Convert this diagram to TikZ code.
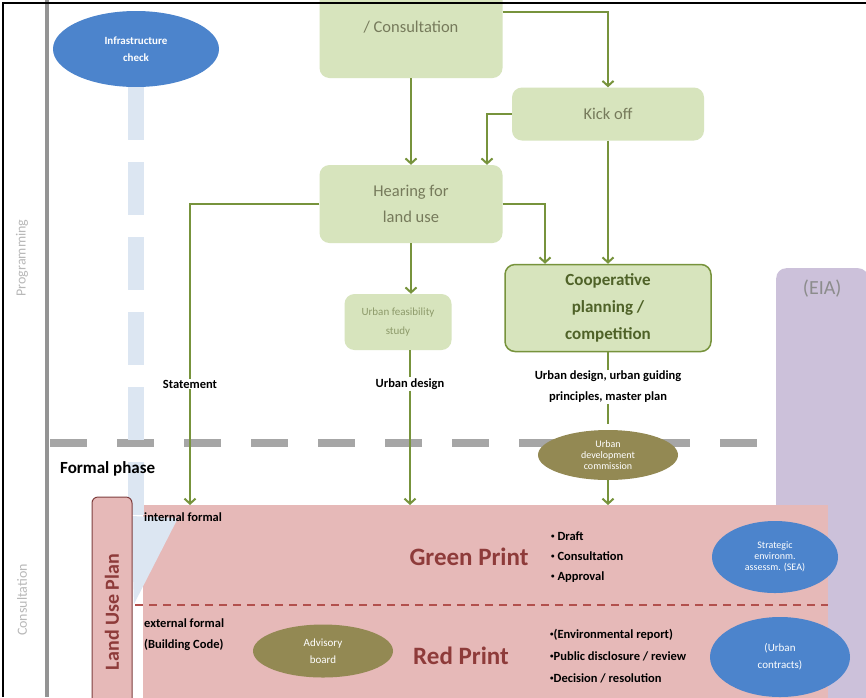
\documentclass[tikz,border=0pt]{standalone}
\usepackage{fontspec}
\setmainfont{Carlito}
\usetikzlibrary{arrows.meta,shapes.geometric}
\definecolor{gfill}{HTML}{D7E4BD}
\definecolor{gline}{HTML}{77933C}
\definecolor{gtext}{HTML}{767A5B}
\definecolor{gtextlt}{HTML}{8D9A6A}
\definecolor{coopt}{HTML}{4F6228}
\definecolor{bluec}{HTML}{4C84CC}
\definecolor{olivec}{HTML}{938953}
\definecolor{pinkc}{HTML}{E6B9B8}
\definecolor{purplec}{HTML}{CCC1DA}
\definecolor{lightblue}{HTML}{DCE6F2}
\definecolor{redt}{HTML}{8E3B3A}
\definecolor{reddash}{HTML}{B2504D}
\definecolor{lupline}{HTML}{7F3F3F}
\newcommand{\bul}{\raisebox{0.25ex}{\fontsize{7}{7}\selectfont•}}
\begin{document}
\begin{tikzpicture}[x=1pt,y=-1pt,
  font=\fontsize{16.5}{26}\selectfont,
  gbox/.style={fill=gfill,rounded corners=10pt,align=center,text=gtext,inner sep=2pt},
  arrow/.style={-{Straight Barb[length=5pt,width=11pt]},line width=2pt,draw=gline},
  link/.style={line width=2pt,draw=gline},
  ellip/.style={ellipse,fill=#1,text=white,align=center,inner sep=0pt,font=\fontsize{10}{11}\selectfont},
  lbl/.style={font=\bfseries\fontsize{12.5}{21}\selectfont,align=center,inner sep=1pt},
  print/.style={font=\bfseries\fontsize{25}{30}\selectfont,text=redt},
  side/.style={rotate=90,text=black!28,font=\fontsize{14}{16}\selectfont},
]
\useasboundingbox (0,0) rectangle (866,697);
\clip (0,0) rectangle (866,697);
\fill[white] (0,0) rectangle (866,697);

% background areas
\node[fill=purplec,rounded corners=10pt,minimum width=92pt,minimum height=460pt,anchor=north west,inner sep=0pt,
  label={[anchor=north,yshift=-8pt,text=black!45,font=\fontsize{20}{24}\selectfont]north:(EIA)}] (eia) at (776,268) {};
\node[fill=pinkc,minimum width=685pt,minimum height=210pt,anchor=north west,inner sep=0pt] (plan) at (143,505) {};
\coordinate (split) at (135,605);
\draw[reddash,line width=1.6pt,dash pattern=on 8pt off 6pt] (split) -- (split -| plan.east);

% phase divider and side labels
\draw[line width=4pt,black!42] (47,0) -- (47,697);
\coordinate (phaseL) at (50,443);
\coordinate (phaseR) at (760,443);
\draw[black!35,line width=8pt,dash pattern=on 37pt off 30pt] (phaseL) -- (phaseR);
\node[side] (prog) at (22,258) {Programming};
\node[side] (cons) at (22,600) {Consultation};

% infrastructure check
\node[ellip=bluec,minimum width=166pt,minimum height=76pt,font=\bfseries\fontsize{11}{17}\selectfont] (infra) at (136,49) {Infrastructure\\check};
\coordinate (infraend) at (136,516);
\draw[lightblue,line width=16pt,dash pattern=on 53pt off 22pt] (infra.south) -- (infraend);
\fill[lightblue] (131,516) -- (178,518) -- (134,604) -- cycle;
\node[font=\bfseries\fontsize{17}{20}\selectfont,anchor=west,inner sep=0pt] (formal) at (60,469) {Formal phase};

% land use plan
\node[draw=lupline,line width=1pt,fill=pinkc,rounded corners=6pt,minimum width=230pt,minimum height=40pt,rotate=90,
  text=redt,font=\bfseries\fontsize{20}{24}\selectfont,inner sep=0pt] (lup) at (112,612) {Land Use Plan};

% programming boxes
\node[gbox,minimum width=183pt,minimum height=132pt] (consult) at (411,12) {\phantom{X}\\[6pt]/ Consultation};
\node[gbox,minimum width=192pt,minimum height=53pt] (kick) at (608,114) {Kick off};
\node[gbox,minimum width=183pt,minimum height=78pt] (hear) at (411,204) {Hearing for\\land use};
\node[gbox,minimum width=107pt,minimum height=56pt,text=gtextlt,font=\fontsize{11}{19}\selectfont] (feas) at (398,322) {Urban feasibility\\study};
\node[gbox,draw=gline,line width=1.5pt,minimum width=206pt,minimum height=87pt,text=coopt,
  font=\bfseries\fontsize{17}{27}\selectfont] (coop) at (608,308) {Cooperative\\planning /\\competition};

\node[lbl] (stmt) at (190,384) {Statement};
\node[lbl] (design) at (410,384) {Urban design};
\node[lbl] (coopl) at (608,387) {Urban design, urban guiding\\principles, master plan};

% connectors
\draw[arrow] (consult.south) -- (hear.north);
\draw[arrow] (consult.east) -| (kick.north);
\draw[arrow] (kick.west) -| ([xshift=76pt]hear.north);
\draw[arrow] (kick.south) -- (coop.north);
\draw[arrow] (hear.east) -| ([xshift=-63pt]coop.north);
\draw[link] (hear.west) -| (stmt.north);
\draw[arrow] (stmt.south) -- (stmt.south |- plan.north);
\draw[arrow] (hear.south) -- (hear.south |- feas.north);
\draw[link] (feas.south -| design.north) -- (design.north);
\draw[arrow] (design.south) -- (design.south |- plan.north);
\draw[link] (coop.south) -- (coopl.north);
\draw[link] (coopl.south) -- ++(0,20);
\node[ellip=olivec,minimum width=140pt,minimum height=50pt] (udc) at (608,455) {Urban\\development\\commission};
\draw[arrow] (udc.south) -- (udc.south |- plan.north);

% formal phase content
\node[lbl,anchor=north west] (intl) at (143,512) {internal formal};
\node[lbl,anchor=west,align=left] (extl) at (143,635) {external formal\\(Building Code)};
\node[print] (gp) at (469,557) {Green Print};
\node[print] (rp) at (461,656) {Red Print};
\node[lbl,anchor=west,align=left,font=\bfseries\fontsize{12.5}{20}\selectfont] (gbul) at (550,557) {\bul\ Draft\\\bul\ Consultation\\\bul\ Approval};
\node[lbl,anchor=west,align=left,font=\bfseries\fontsize{12.5}{22}\selectfont] (rbul) at (549,656) {\bul(Environmental report)\\\bul Public disclosure / review\\\bul Decision / resolution};
\node[ellip=olivec,minimum width=140pt,minimum height=53pt,font=\fontsize{11}{17}\selectfont] (adv) at (323,651) {Advisory\\board};
\node[ellip=bluec,minimum width=126pt,minimum height=72pt] (sea) at (775,557) {Strategic\\environm.\\assessm. (SEA)};
\node[ellip=bluec,minimum width=140pt,minimum height=80pt,font=\fontsize{11}{17}\selectfont] (contr) at (780,657) {(Urban\\contracts)};

% frame
\draw[line width=2pt] (3,697) -- (3,3) -- (866,3);
\end{tikzpicture}
\end{document}
